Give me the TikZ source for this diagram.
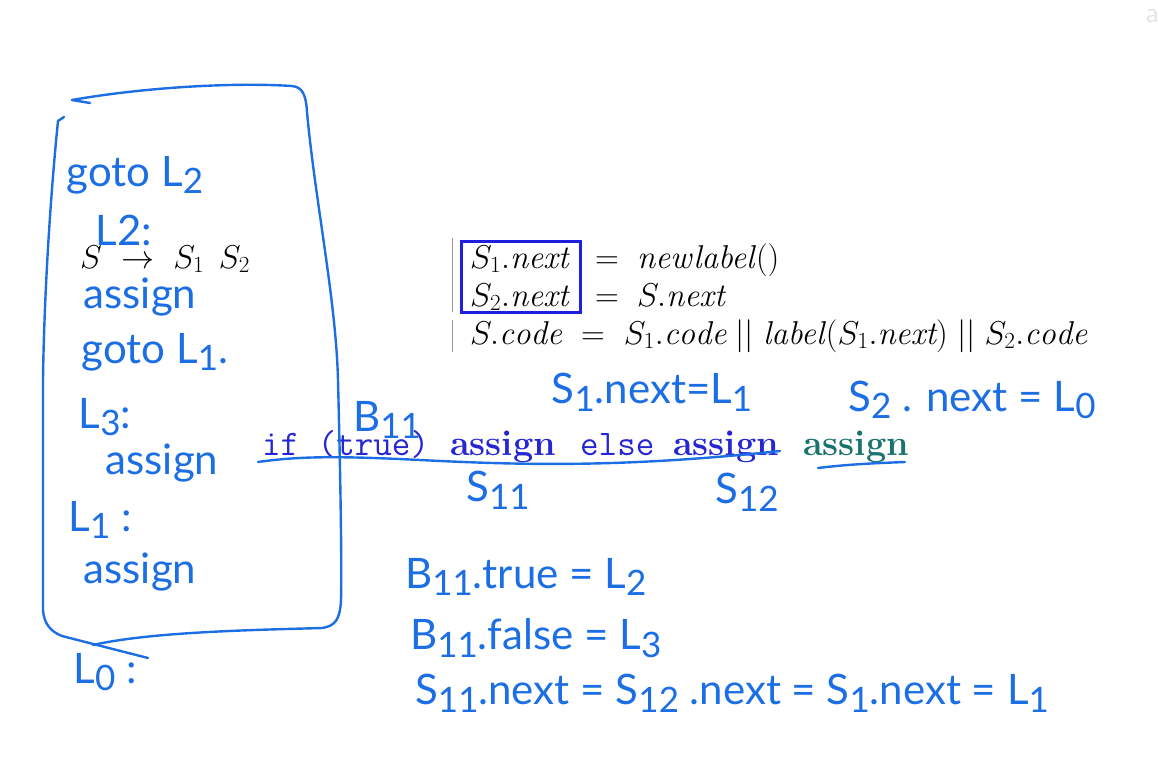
\RequirePackage{fix-cm}
\documentclass[tikz,border=0pt]{standalone}
\usepackage{fontspec}
\usepackage{amsmath}
\usepackage{tikz}
\usetikzlibrary{positioning}
\newfontfamily\handfont{Lato}
\definecolor{penblue}{RGB}{28,110,228}
\definecolor{slideblue}{RGB}{30,30,225}
\definecolor{codeblue}{RGB}{38,38,210}
\definecolor{codegreen}{RGB}{25,115,110}
\definecolor{barcolor}{RGB}{150,150,150}
\newcommand\hsub[1]{\raisebox{-0.18em}{\fontsize{35}{35}\selectfont #1}}
\tikzset{
  hand/.style={font=\handfont\fontsize{42}{42}\selectfont, text=penblue, inner sep=0pt},
  pen/.style={draw=penblue, line width=2.4pt, line cap=round, line join=round},
  slide/.style={font=\fontsize{33}{33}\selectfont, inner sep=0pt, anchor=base west},
  code/.style={font=\fontsize{36}{36}\selectfont, inner sep=0pt, anchor=base west, text=codeblue},
  hibox/.style={draw=slideblue, line width=3pt},
  tablebar/.style={draw=barcolor, line width=1pt}
}
\begin{document}
\begin{tikzpicture}[x=1pt,y=-1pt]
  \useasboundingbox (0,0) rectangle (1158,772);
  % ── printed slide ──
  \node[slide] (prod) at (80,268) {$S\ \rightarrow\ S_1\;\, S_2$};
  \node[slide] (lhsa) at (470,268) {$S_1.\mathit{next}$};
  \node[slide] (eqa) at (595,268) {$=$};
  \node[slide] (rhsa) at (637,268) {\textit{newlabel}()};
  \node[slide] (lhsb) at (470,306) {$S_2.\mathit{next}$};
  \node[slide] (eqb) at (595,306) {$=$};
  \node[slide] (rhsb) at (637,306) {$S.\mathit{next}$};
  \node[slide] (coderow) at (470,344)
    {$S.\mathit{code}\ =\ S_1.\mathit{code} \mathrel{||} \text{\textit{label}}(S_1.\mathit{next}) \mathrel{||} S_2.\mathit{code}$};
  \draw[hibox] (461,241) rectangle (580,312);
  \draw[tablebar] (452,238) -- (452,312);
  \draw[tablebar] (452,320) -- (452,352);
  \node[code] (kif) at (262,455) {\ttfamily if (true)};
  \node[code] (sone) at (450,455) {\bfseries assign};
  \node[code] (kelse) at (580,455) {\ttfamily else};
  \node[code] (stwo) at (673,455) {\bfseries assign};
  \node[code, text=codegreen] (snext) at (803,455) {\bfseries assign};
  \node[text=black!10, font=\fontsize{30}{30}\selectfont\sffamily] (mark) at (1152,16) {a};
  % ── pen: box round the generated code ──
  \draw[pen] (72,100) -- (90,103);
  \draw[pen] (72,100) .. controls (140,88) and (230,82) .. (292,86)
    .. controls (302,87) and (306,94) .. (307,112)
    .. controls (315,200) and (336,300) .. (338,380)
    .. controls (340,460) and (342,560) .. (341,600)
    .. controls (340,620) and (335,626) .. (322,628)
    .. controls (250,630) and (150,632) .. (93,645);
  \draw[pen] (64,117) -- (58,121) .. controls (50,200) and (44,300) .. (43,380)
    -- (43,610) .. controls (44,625) and (52,632) .. (62,636) -- (148,658);
  % generated code
  \node[hand] (go2) at (135,175) {goto L\hsub{2}};
  \node[hand] (lab2) at (124,230) {L2:};
  \node[hand] (asa) at (140,297) {assign};
  \node[hand] (go1) at (155,352) {goto L\hsub{1}.};
  \node[hand] (lab3) at (105,417) {L\hsub{3}:};
  \node[hand] (asb) at (162,463) {assign};
  \node[hand] (lab1) at (100,520) {L\hsub{1} :};
  \node[hand] (asc) at (140,572) {assign};
  \node[hand] (lab0) at (105,672) {L\hsub{0} :};
  % ── pen: notes on the if statement ──
  \node[hand] (bname) at (387,420) {B\hsub{11}};
  \node[hand] (nexta) at (652,392) {S\hsub{1}.next=L\hsub{1}};
  \node[hand] (nextb) at (972,400) {S\hsub{2} . next = L\hsub{0}};
  \draw[pen] (258,462) .. controls (300,456) and (340,456) .. (420,460)
    .. controls (520,465) and (620,468) .. (780,451);
  \draw[pen] (818,468) .. controls (850,464) and (880,463) .. (905,462);
  \node[hand] (sa) at (498,490) {S\hsub{11}};
  \node[hand] (sb) at (747,492) {S\hsub{12}};
  \node[hand, anchor=west] (btrue) at (405,577) {B\hsub{11}.true = L\hsub{2}};
  \node[hand, anchor=west] (bfalse) at (410,638) {B\hsub{11}.false = L\hsub{3}};
  \node[hand, anchor=west] (chain) at (415,693) {S\hsub{11}.next = S\hsub{12} .next = S\hsub{1}.next = L\hsub{1}};
\end{tikzpicture}
\end{document}
